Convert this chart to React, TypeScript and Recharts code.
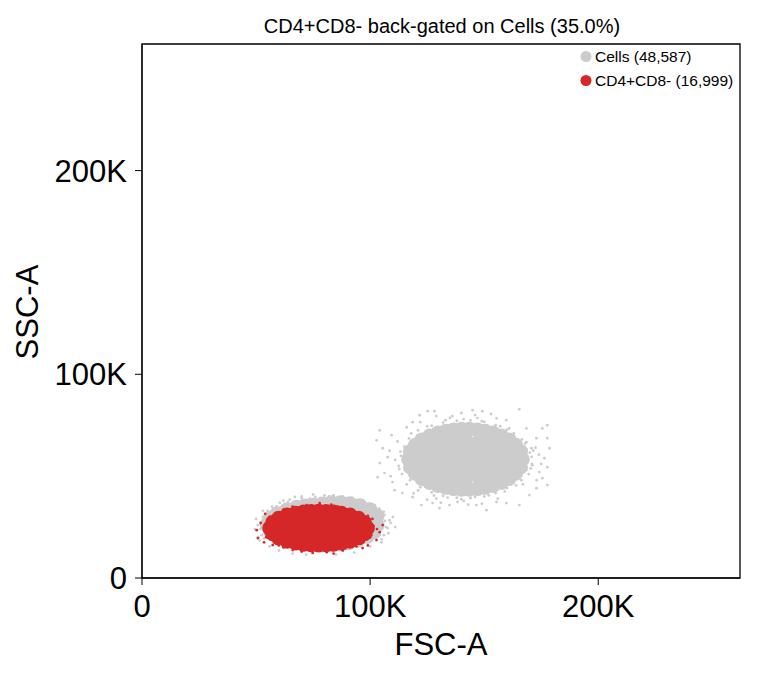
import { ScatterChart, Scatter, XAxis, YAxis, ReferenceArea } from 'recharts';

// all values in thousands (K) of FSC-A / SSC-A
// dense body of the large Cells cluster (rim + fill)
const bigCore: [number, number][] = [
  [166.7, 58.3], [165.9, 62.1], [163.8, 65.2], [160.9, 67.8], [157.5, 69.7], [153.9, 71.2], [150.3, 72.1], [147.0, 72.7], [143.5, 73.0],
  [140.1, 73.0], [136.6, 72.7], [133.3, 72.1], [129.7, 71.2], [126.1, 69.7], [122.7, 67.8], [119.8, 65.2], [117.7, 62.1], [116.9, 58.3],
  [117.7, 54.5], [119.8, 51.4], [122.7, 48.8], [126.1, 46.9], [129.7, 45.4], [133.3, 44.5], [136.6, 43.9], [140.1, 43.6],
  [143.5, 43.6], [147.0, 43.9], [150.3, 44.5], [153.9, 45.4], [157.5, 46.9], [160.9, 48.8], [163.8, 51.4], [165.9, 54.5],
  [127, 66.3], [131, 66.3], [135, 66.3], [139, 66.3], [143, 66.3], [147, 66.3], [151, 66.3], [155, 66.3],
  [122, 62.3], [126, 62.3], [130, 62.3], [134, 62.3], [138, 62.3], [142, 62.3], [146, 62.3], [150, 62.3], [154, 62.3], [158, 62.3], [162, 62.3],
  [120, 58.3], [124, 58.3], [128, 58.3], [132, 58.3], [136, 58.3], [140, 58.3], [144, 58.3], [148, 58.3], [152, 58.3], [156, 58.3], [160, 58.3], [163, 58.3],
  [122, 54.3], [126, 54.3], [130, 54.3], [134, 54.3], [138, 54.3], [142, 54.3], [146, 54.3], [150, 54.3], [154, 54.3], [158, 54.3], [162, 54.3],
  [127, 50.3], [131, 50.3], [135, 50.3], [139, 50.3], [143, 50.3], [147, 50.3], [151, 50.3], [155, 50.3],
  [159, 65.5], [124, 65.5], [159, 51], [124, 51], [131, 70], [151, 70], [131, 46.5], [151, 46.5],
  [141, 70], [141, 46.5], [120, 56], [120, 61], [163.5, 56], [163.5, 61],
];

// sparse events around the large cluster
const bigScatter: [number, number][] = [
  [125.2, 81.9], [128.2, 81.9], [121.7, 79.9], [118.6, 76.5], [116.0, 74.0], [104.2, 72.5], [102.8, 67.6],
  [109.4, 70.1], [105.5, 63.7], [107.7, 59.3], [104.2, 56.4], [103.3, 49.5], [106.3, 51.5], [109.8, 47.1],
  [110.7, 43.1], [114.2, 41.7], [118.6, 39.7], [122.5, 35.8], [127.4, 36.8], [130.4, 34.3], [134.8, 35.8],
  [138.3, 37.3], [165.4, 82.8], [149.2, 81.9], [144.9, 82.4], [155.4, 78.4], [159.7, 77.5], [168.5, 73.5],
  [175.5, 73.5], [177.7, 75.0], [172.9, 68.6], [177.7, 68.6], [178.6, 63.7], [176.4, 58.8], [177.7, 54.4],
  [175.5, 49.0], [177.7, 45.6], [172.9, 44.1], [169.8, 40.7], [165.4, 35.8], [159.7, 36.8], [155.4, 37.3],
  [151.0, 33.3], [146.6, 35.8], [174.2, 52.0], [171.1, 55.4], [170.7, 63.7], [168.5, 66.7],
  [133, 77.5], [141, 78], [149, 77], [157, 74.5], [125, 74.5], [118, 71], [163, 71], [129, 79.5], [153, 80.5],
  [140, 81], [146, 80], [136, 79.5], [122, 76.5], [161, 73.5],
  [121, 43], [128, 40.5], [134, 39.5], [140, 38.7], [146, 39.8], [152, 40.6], [159, 42.5], [164, 45.5],
  [116, 46], [131, 37], [149, 36.5], [143, 36], [156, 39], [125, 38.5], [119, 41.5],
  [113.5, 60], [112.5, 55], [114, 51], [115, 64.5], [111, 58], [108.5, 62.5], [109, 50], [112, 67],
  [170, 61.5], [171, 56], [169.5, 51], [168, 66], [172.5, 64], [174, 60.5], [173, 48], [175, 56], [167, 46],
  [138, 77.2], [144, 77.4], [132, 76.3], [150, 76.6], [127, 74.8], [155, 75], [121, 72.5], [160, 72.8],
  [147, 78.5], [135, 78.6], [138, 39.4], [144, 39.2], [132, 40.3], [150, 40], [127, 42], [155, 41.7],
  [122, 44.5], [160, 44.2], [141, 37.8], [129, 39], [114.5, 58], [115.2, 53], [115.5, 63], [117, 68.5],
  [117.5, 48], [113.3, 62], [112.8, 53.5], [169.2, 58], [168.5, 53], [168.6, 63], [166.5, 68],
  [166.3, 48], [170.8, 59.5], [170.4, 53.8], [171.5, 62.5],
];

// dense body of the small Cells cluster (mostly under the red gate)
const smallCore: [number, number][] = [
  [103.1, 26], [103, 30.5], [100, 33.5], [95.5, 35.5], [91, 36.5], [87, 37], [83, 37], [79, 36.3],
  [75.2, 35.7], [71.6, 35.3], [67.7, 34.7], [63.5, 33.5], [59.3, 31.6], [56.4, 29.4], [54.9, 26],
  [56.4, 22.6], [59.3, 20.4], [63.5, 18.5], [67.7, 17.3], [71.6, 16.7], [75.2, 16.3], [79, 16.2],
  [82.8, 16.3], [86.4, 16.7], [90.3, 17.3], [94.5, 18.5], [98.7, 20.4], [101.6, 22.6],
  [64, 30], [72, 30], [80, 30], [88, 30], [96, 30], [92, 33],
  [62, 26], [70, 26], [78, 26], [86, 26], [94, 26],
  [64, 22], [72, 22], [80, 22], [88, 22], [96, 22],
];

const smallScatter: [number, number][] = [
  [60.4, 37], [64.8, 38.5], [69.2, 37.5], [73.5, 39], [77.9, 38], [82.3, 39.5], [86.7, 37.5], [91.0, 38.5],
  [95.4, 37], [99.8, 36], [67, 39.8], [80, 40.5], [88, 40], [57, 35], [104, 34],
  [106.3, 30.9], [108.5, 28.4], [107.7, 24.5], [104.2, 21.1], [102, 33.3], [105, 19],
  [50.8, 26], [52.5, 21], [53, 30], [55, 33], [51.5, 18.5], [56, 15.5],
  [62, 38], [70, 40], [75, 41], [84, 40.5], [92, 39.5], [97, 38], [102, 35.5], [106, 32.5], [109, 27],
  [108, 22], [105, 17.5], [100, 15.5], [53, 33], [50, 29], [49.5, 24], [51, 20], [60, 13.5],
  [66, 12], [72, 11.5], [85, 11.5], [93, 12.5], [110, 30], [111, 25],
  [70, 39.2], [76, 39.8], [82, 40], [88, 39.5], [94, 38.2], [99, 36.5], [64, 37.4], [59, 35.2],
  [104, 31.5], [106.5, 28], [107, 25], [106, 21], [53, 28.5], [52, 24], [53.5, 19.5],
];

// dense body of the CD4+CD8- gate
const redCore: [number, number][] = [
  [98.8, 24.5], [97.5, 27.3], [94.9, 29.3], [91.2, 30.9], [87.4, 31.8], [84.0, 32.4], [80.7, 32.7], [77.4, 32.8],
  [74.1, 32.7], [70.8, 32.4], [67.4, 31.8], [63.6, 30.9], [59.9, 29.3], [57.3, 27.3], [56.0, 24.5],
  [57.3, 21.7], [59.9, 19.7], [63.6, 18.1], [67.4, 17.2], [70.8, 16.6], [74.1, 16.3], [77.4, 16.2],
  [80.7, 16.3], [84.0, 16.6], [87.4, 17.2], [91.2, 18.1], [94.9, 19.7], [97.5, 21.7],
  [64, 28.5], [68, 28.5], [72, 28.5], [76, 28.5], [80, 28.5], [84, 28.5], [88, 28.5], [92, 28.5],
  [61, 24.5], [65, 24.5], [69, 24.5], [73, 24.5], [77, 24.5], [81, 24.5], [85, 24.5], [89, 24.5], [93, 24.5],
  [64, 20.5], [68, 20.5], [72, 20.5], [76, 20.5], [80, 20.5], [84, 20.5], [88, 20.5], [92, 20.5],
];

const redScatter: [number, number][] = [
  [50.8, 19.6], [50.3, 23.5], [56, 30], [102.8, 18.6], [105.5, 26], [104.2, 22.5], [72.2, 35.8],
  [77.9, 36.8], [91, 33.3], [74.8, 12.3], [81, 12.7], [66.1, 13.7], [57.3, 16.2], [96.7, 14.7],
  [52, 27], [53.5, 17.5], [101, 29], [99, 16], [62, 33.5], [86, 35], [70, 13], [88, 13.5],
  [54, 31.5], [103, 24], [100, 20], [94, 15.5], [84, 12], [62, 15], [66, 35], [83, 36],
  [55.5, 29], [54.5, 20], [60, 16], [95, 32], [99, 30.5], [101.5, 25.5], [100.5, 21], [97, 17.5],
  [89, 14.5], [80, 13.8], [70, 14.5], [63, 32.5], [72, 34.5], [82, 35],
];

const axisTicks = [0, 100, 200];
const legendItems = [
  { label: 'Cells (48,587)', color: '#cccccc' },
  { label: 'CD4+CD8- (16,999)', color: '#d62728' },
];

const toPoints = (arr: [number, number][]) => arr.map(([x, y]) => ({ x, y }));

const GRAY = '#cccccc';
const RED = '#d62728';
const FONT = '"Liberation Sans", Arial, sans-serif';

const coreShape = (color: string) => (props: any) => (
  <circle cx={props.cx} cy={props.cy} r={7.5} fill={color} />
);
const dotShape = (color: string) => (props: any) => (
  <circle cx={props.cx} cy={props.cy} r={1.4} fill={color} />
);

const fmt = (v: number) => (v === 0 ? '0' : `${v}K`);

export default function App() {
  return (
    <div style={{ position: 'absolute', left: 0, top: 0, width: 757, height: 677, fontFamily: FONT }}>
      <ScatterChart
        width={757}
        height={677}
        margin={{ top: 44, right: 17, bottom: 39, left: 22 }}
      >
        <XAxis
          type="number"
          dataKey="x"
          domain={[0, 262.144]}
          ticks={axisTicks}
          tickFormatter={fmt}
          height={60}
          tickSize={7}
          tickMargin={10}
          stroke="#000"
          tick={{ fill: '#000', fontSize: 31, fontFamily: FONT }}
          allowDataOverflow
        />
        <YAxis
          type="number"
          dataKey="y"
          domain={[0, 262.144]}
          ticks={axisTicks}
          tickFormatter={fmt}
          width={120}
          tickSize={7}
          tickMargin={8}
          stroke="#000"
          tick={{ fill: '#000', fontSize: 31, fontFamily: FONT }}
          allowDataOverflow
        />
        <ReferenceArea x1={0} x2={262.144} y1={0} y2={262.144} fill="none" stroke="#000" strokeWidth={1.3} ifOverflow="visible" />
        <Scatter data={toPoints(bigCore)} fill={GRAY} shape={coreShape(GRAY)} isAnimationActive={false} />
        <Scatter data={toPoints(bigScatter)} fill={GRAY} shape={dotShape(GRAY)} isAnimationActive={false} />
        <Scatter data={toPoints(smallCore)} fill={GRAY} shape={coreShape(GRAY)} isAnimationActive={false} />
        <Scatter data={toPoints(smallScatter)} fill={GRAY} shape={dotShape(GRAY)} isAnimationActive={false} />
        <Scatter data={toPoints(redCore)} fill={RED} shape={coreShape(RED)} isAnimationActive={false} />
        <Scatter data={toPoints(redScatter)} fill={RED} shape={dotShape(RED)} isAnimationActive={false} />
      </ScatterChart>
      <svg width={757} height={677} style={{ position: 'absolute', left: 0, top: 0, pointerEvents: 'none' }}>
        <text x={442} y={33} textAnchor="middle" fontSize={20} fontFamily={FONT} fill="#000">
          CD4+CD8- back-gated on Cells (35.0%)
        </text>
        <text x={441} y={655} textAnchor="middle" fontSize={31} fontFamily={FONT} fill="#000">FSC-A</text>
        <text x={38} y={312} textAnchor="middle" fontSize={31} fontFamily={FONT} fill="#000" transform="rotate(-90, 38, 312)">SSC-A</text>
        {legendItems.map((it, i) => (
          <g key={it.label}>
            <circle cx={586} cy={56.5 + i * 24} r={5.5} fill={it.color} />
            <text x={595} y={61.5 + i * 24} fontSize={15.5} fontFamily={FONT} fill="#000">{it.label}</text>
          </g>
        ))}
      </svg>
    </div>
  );
}
